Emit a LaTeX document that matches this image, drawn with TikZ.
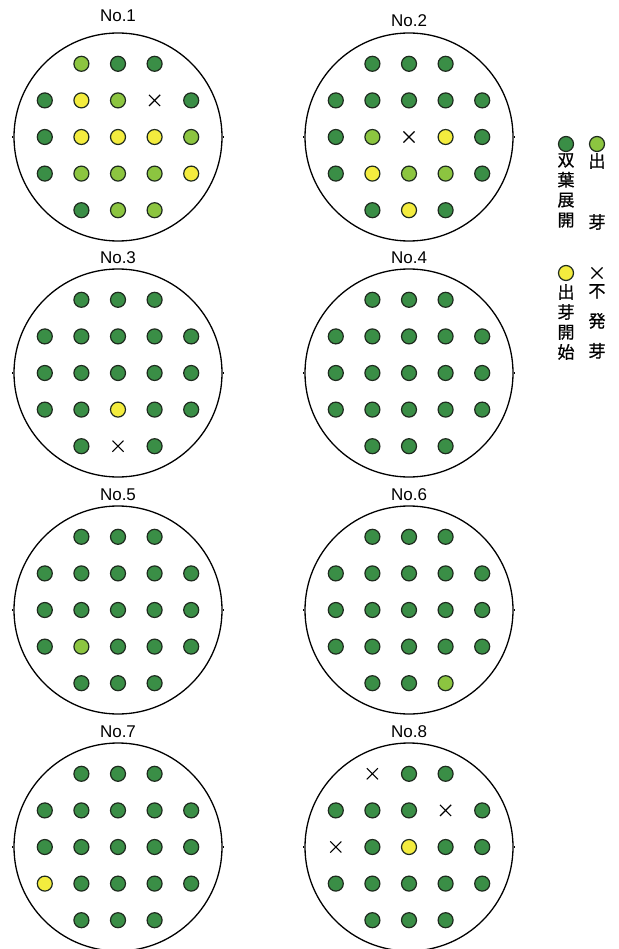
\documentclass[tikz,border=0pt]{standalone}
\usepackage{fontspec}
\setmainfont{Liberation Sans}
\newfontfamily\jpfont[FakeBold=0.8]{Noto Sans CJK JP}
\usepackage{tikz}
\usetikzlibrary{positioning,shapes.misc}
\definecolor{leafDark}{HTML}{3A8E46}
\definecolor{leafLight}{HTML}{8CC540}
\definecolor{sproutYellow}{HTML}{F3EC3E}
\definecolor{seedRim}{HTML}{1E2A1E}

\tikzset{
  plate/.style={circle,draw,line width=1.3pt,minimum size=208pt,inner sep=0pt},
  seed/.style={circle,draw=seedRim,line width=1.2pt,minimum size=15pt,inner sep=0pt},
  seedD/.style={seed,fill=leafDark},
  seedL/.style={seed,fill=leafLight},
  seedY/.style={seed,fill=sproutYellow},
  seedX/.style={cross out,draw,line width=1.1pt,minimum size=10pt,inner sep=0pt},
  title/.style={font=\fontsize{17}{19}\selectfont},
  legend/.style={font=\jpfont\fontsize{17}{20}\selectfont,align=center,inner sep=0pt,anchor=north}
}

% one dish: number, centre x, centre y, title y, rows (- = no seed)
\newcommand\dish[5]{%
  \node[plate] (plate#1) at (#2,#3) {};
  \draw[line width=1.3pt] (plate#1.west) -- ++(-1.5,0) (plate#1.east) -- ++(1.5,0);
  \node[title] (no#1) at (#2,#4) {No.#1};
  \foreach \row [count=\r] in {#5} {
    \foreach \s [count=\c] in \row {
      \if\s-\else
        \node[seed\s] (s#1-\r-\c) at ({#2+(\c-3)*36.6},{#3+(\r-3)*36.6}) {};
      \fi
    }
  }%
}

\begin{document}
\begin{tikzpicture}[x=1pt,y=-1pt]
  \useasboundingbox (0,0) rectangle (618,949);

  \dish{1}{118}{137}{16}{{-,L,D,D,-},{D,Y,L,X,D},{D,Y,Y,Y,L},{D,L,L,L,Y},{-,D,L,L,-}}
  \dish{2}{409}{137}{21}{{-,D,D,D,-},{D,D,D,D,D},{D,L,X,Y,D},{D,Y,L,L,D},{-,D,Y,D,-}}
  \dish{3}{118}{373}{258}{{-,D,D,D,-},{D,D,D,D,D},{D,D,D,D,D},{D,D,Y,D,D},{-,D,X,D,-}}
  \dish{4}{409}{373}{258}{{-,D,D,D,-},{D,D,D,D,D},{D,D,D,D,D},{D,D,D,D,D},{-,D,D,D,-}}
  \dish{5}{118}{610}{495}{{-,D,D,D,-},{D,D,D,D,D},{D,D,D,D,D},{D,L,D,D,D},{-,D,D,D,-}}
  \dish{6}{409}{610}{495}{{-,D,D,D,-},{D,D,D,D,D},{D,D,D,D,D},{D,D,D,D,D},{-,D,D,L,-}}
  \dish{7}{118}{847}{732}{{-,D,D,D,-},{D,D,D,D,D},{D,D,D,D,D},{Y,D,D,D,D},{-,D,D,D,-}}
  \dish{8}{409}{847}{732}{{-,X,D,D,-},{D,D,D,X,D},{X,D,Y,D,D},{D,D,D,D,D},{-,D,D,D,-}}

  % legend
  \node[seedD] (keyDark) at (566,144) {};
  \node[seedL] (keyLight) at (597,144) {};
  \node[legend] (txtDark) at (566,153) {双\\葉\\展\\開};
  \node[legend] (txtLight) at (597,153) {出\\[41pt]芽};
  \node[seedY] (keyStart) at (566,273) {};
  \node[seedX] (keyNone) at (597,273) {};
  \node[legend] (txtStart) at (566,284) {出\\芽\\開\\始};
  \node[legend] (txtNone) at (597,284) {不\\[10pt]発\\[10pt]芽};
\end{tikzpicture}
\end{document}
